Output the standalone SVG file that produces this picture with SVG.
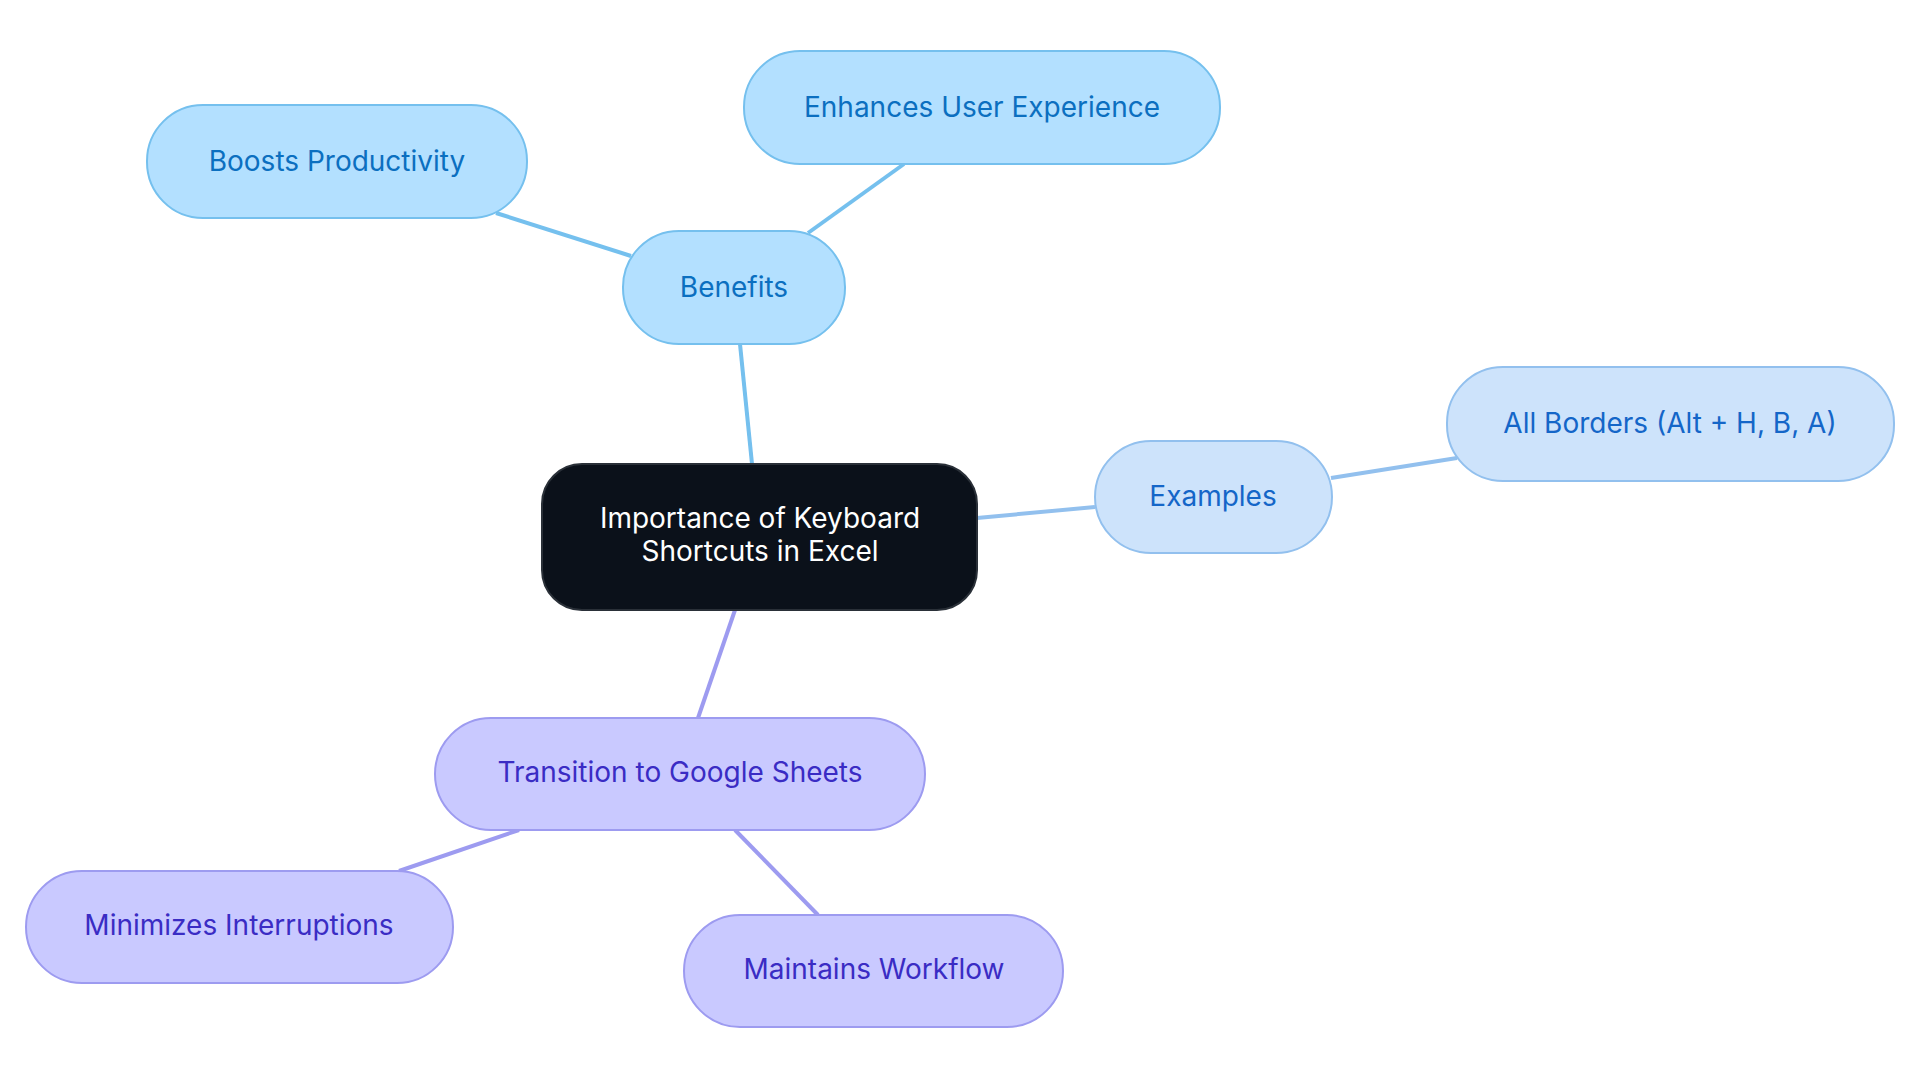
<svg xmlns="http://www.w3.org/2000/svg" width="1920" height="1083" viewBox="0 0 1920 1083">
<style>
text{font-family:Inter,"Noto Sans",sans-serif;font-size:28px;text-anchor:middle;dominant-baseline:central}
.b rect{fill:#b3e0ff;stroke:#75c0ee;stroke-width:2}.b text{fill:#0b6fc0}
.e rect{fill:#cde3fb;stroke:#92c0ee;stroke-width:2}.e text{fill:#1466c8}
.p rect{fill:#c9c9ff;stroke:#9d9bf0;stroke-width:2}.p text{fill:#3a2cc4}
.lb{stroke:#75c0ee;stroke-width:4}.le{stroke:#92c0ee;stroke-width:4}.lp{stroke:#9d9bf0;stroke-width:4}
</style>
<rect width="1920" height="1083" fill="#fff"/>
<g id="connectors" fill="none">
<line class="lb" x1="752" y1="464" x2="740" y2="344"/>
<line class="lb" x1="631" y1="256" x2="496" y2="213"/>
<line class="lb" x1="808" y1="233" x2="904" y2="164"/>
<line class="le" x1="977" y1="518" x2="1095" y2="507"/>
<line class="le" x1="1331" y1="478" x2="1457" y2="458"/>
<line class="lp" x1="735" y1="610" x2="698" y2="718"/>
<line class="lp" x1="519" y1="830" x2="399" y2="871"/>
<line class="lp" x1="735" y1="830" x2="818" y2="915"/>
</g>
<g id="center"><rect x="542" y="464" width="435" height="146" rx="40" fill="#0b111a" stroke="#2a3038" stroke-width="2"/><text x="760" y="518" fill="#fff">Importance of Keyboard</text><text x="760" y="551" fill="#fff">Shortcuts in Excel</text></g>
<g id="benefits" class="b"><rect x="623" y="231" width="222" height="113" rx="56"/><text x="734" y="287">Benefits</text></g>
<g id="boosts" class="b"><rect x="147" y="105" width="380" height="113" rx="56"/><text x="337" y="161">Boosts Productivity</text></g>
<g id="enhances" class="b"><rect x="744" y="51" width="476" height="113" rx="56"/><text x="982" y="107">Enhances User Experience</text></g>
<g id="examples" class="e"><rect x="1095" y="441" width="237" height="112" rx="56"/><text x="1213" y="496">Examples</text></g>
<g id="allborders" class="e"><rect x="1447" y="367" width="447" height="114" rx="56"/><text x="1670" y="423">All Borders (Alt + H, B, A)</text></g>
<g id="transition" class="p"><rect x="435" y="718" width="490" height="112" rx="56"/><text x="680" y="772">Transition to Google Sheets</text></g>
<g id="minimizes" class="p"><rect x="26" y="871" width="427" height="112" rx="56"/><text x="239" y="925">Minimizes Interruptions</text></g>
<g id="maintains" class="p"><rect x="684" y="915" width="379" height="112" rx="56"/><text x="874" y="969">Maintains Workflow</text></g>
</svg>
